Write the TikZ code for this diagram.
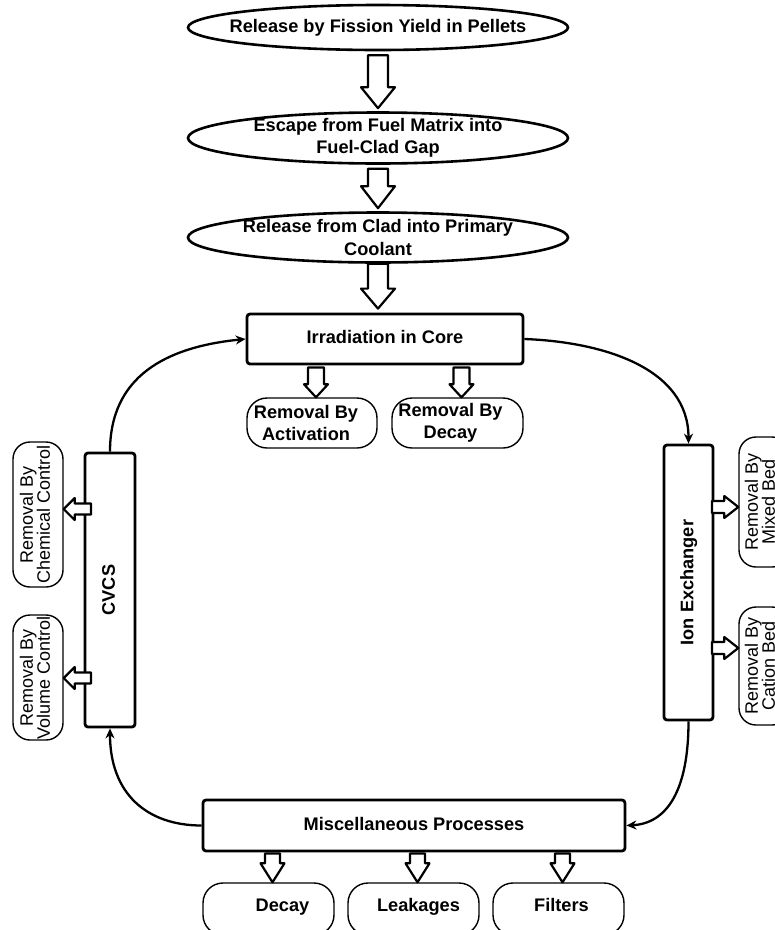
\documentclass[tikz,border=0pt]{standalone}
\usepackage{fontspec}
\setmainfont{Liberation Sans}
\usetikzlibrary{shapes.geometric,arrows.meta,calc}

% hollow block arrows: #1 start, #2 end (tip), #3 shaft half width, #4 head half width, #5 head length
\newcommand\blkdown[5]{\draw[blk] let \p1=(#1), \p2=(#2) in
 (\x2-#3pt,\y1) -- (\x2+#3pt,\y1) -- (\x2+#3pt,\y2+#5pt) -- (\x2+#4pt,\y2+#5pt) -- (\x2,\y2)
 -- (\x2-#4pt,\y2+#5pt) -- (\x2-#3pt,\y2+#5pt) -- cycle;}
\newcommand\blkright[5]{\draw[blk] let \p1=(#1), \p2=(#2) in
 (\x1,\y1-#3pt) -- (\x1,\y1+#3pt) -- (\x2-#5pt,\y1+#3pt) -- (\x2-#5pt,\y1+#4pt) -- (\x2,\y1)
 -- (\x2-#5pt,\y1-#4pt) -- (\x2-#5pt,\y1-#3pt) -- cycle;}
\newcommand\blkleft[5]{\draw[blk] let \p1=(#1), \p2=(#2) in
 (\x1,\y1-#3pt) -- (\x1,\y1+#3pt) -- (\x2+#5pt,\y1+#3pt) -- (\x2+#5pt,\y1+#4pt) -- (\x2,\y1)
 -- (\x2+#5pt,\y1-#4pt) -- (\x2+#5pt,\y1-#3pt) -- cycle;}

\begin{document}
\begin{tikzpicture}[x=1pt,y=-1pt,
  t/.style={font=\bfseries\fontsize{18.2}{22.5}\selectfont, align=center, inner sep=0pt},
  one/.style={text height=13.5pt, text depth=4pt},
  lt/.style={font=\fontsize{18}{17}\selectfont, align=center, inner sep=0pt},
  ell/.style={ellipse, draw, line width=2.6pt, inner sep=0pt, minimum width=380pt},
  mainbox/.style={draw, line width=2.8pt, rounded corners=3pt, inner sep=0pt, t},
  subbox/.style={draw, line width=1.4pt, rounded corners=20pt, inner sep=0pt},
  sidebox/.style={draw, line width=1.4pt, rounded corners=17pt, inner sep=0pt, minimum width=50pt},
  blk/.style={draw, line width=2.2pt, fill=white, line join=round},
  flow/.style={line width=2.3pt, -{Stealth[length=10pt,width=9pt]}}]
\clip (0,0) rectangle (775,930);
\fill[white] (0,0) rectangle (775,930);

% top ellipses
\node[ell, minimum height=45pt, label={[t]center:Release by Fission Yield in Pellets}] (e1) at (378,27.5) {};
\node[ell, minimum height=51pt, label={[t]center:Escape from Fuel Matrix into\\Fuel-Clad Gap}] (e2) at (378,138) {};
\node[ell, minimum height=50pt, label={[t]center:Release from Clad into Primary\\Coolant}] (e3) at (378,237.5) {};

% main boxes
\node[mainbox, one, minimum width=276pt, minimum height=50pt] (irr) at (385,339) {Irradiation in Core};
\node[mainbox, minimum width=50pt, minimum height=274pt, label={[t,one,rotate=90]center:CVCS}] (cvcs) at (110,590) {};
\node[mainbox, minimum width=49pt, minimum height=275pt, label={[t,one,rotate=90]center:Ion Exchanger}] (ion) at (688.5,582.5) {};
\node[mainbox, one, minimum width=422pt, minimum height=51pt] (misc) at (414,825.5) {Miscellaneous Processes};

% removal boxes under core
\node[subbox, minimum width=130pt, minimum height=50pt, label={[t,xshift=-6pt]center:Removal By\\Activation}] (act) at (312,423) {};
\node[subbox, minimum width=131pt, minimum height=50pt, label={[t,xshift=-7pt]center:Removal By\\Decay}] (dcy) at (457.5,423) {};

% side boxes
\node[sidebox, minimum height=145pt, label={[lt,rotate=90,yshift=3pt]center:Removal By\\Chemical Control}] (chem) at (38,514.5) {};
\node[sidebox, minimum height=125pt, label={[lt,rotate=90,yshift=3pt]center:Removal By\\Volume Control}] (vol) at (38,677.5) {};
\node[sidebox, minimum height=130pt, label={[lt,rotate=90,yshift=4pt]center:Removal By\\Mixed Bed}] (mix) at (764,502) {};
\node[sidebox, minimum height=118pt, label={[lt,rotate=90,yshift=4pt]center:Removal By\\Cation Bed}] (cat) at (764,666) {};

% bottom boxes
\node[subbox, minimum width=131pt, minimum height=52pt, label={[t,one,xshift=14pt,yshift=2pt]center:Decay}] (bdec) at (268.5,909) {};
\node[subbox, minimum width=131pt, minimum height=52pt, label={[t,one,xshift=5pt,yshift=2pt]center:Leakages}] (leak) at (413.5,909) {};
\node[subbox, minimum width=131pt, minimum height=52pt, label={[t,one,xshift=3pt,yshift=2pt]center:Filters}] (filt) at (558.5,909) {};

% hollow arrows, vertical chain
\blkdown{[yshift=-4pt]e1.south}{[yshift=3pt]e2.north}{10}{17}{21}
\blkdown{[yshift=-4pt]e2.south}{[yshift=3pt]e3.north}{10}{17}{22}
\blkdown{e3.south}{[xshift=-7pt,yshift=4pt]irr.north}{10}{17}{20}

% hollow arrows from core
\blkdown{[yshift=-2pt]irr.south}{[xshift=4pt]act.north}{8}{12}{13}
\blkdown{[yshift=-2pt]irr.south}{[xshift=4pt]dcy.north}{8}{12}{13}

% hollow arrows from misc
\blkdown{[yshift=-1pt]misc.south}{[xshift=4pt]bdec.north}{7.5}{12}{19}
\blkdown{[yshift=-1pt]misc.south}{[xshift=4pt]leak.north}{7.5}{12}{19}
\blkdown{[yshift=-1pt]misc.south}{[xshift=4pt]filt.north}{7.5}{12}{19}

% side hollow arrows
\coordinate (ca1) at (91,509);
\coordinate (ca2) at (91,678);
\coordinate (ia1) at (712,507);
\coordinate (ia2) at (712,648);
\blkleft{ca1}{chem.east}{5.5}{11}{11}
\blkleft{ca2}{vol.east}{5.5}{11}{11}
\blkright{ia1}{mix.west}{6}{11}{14}
\blkright{ia2}{cat.west}{6}{11}{14}

% loop connectors
\draw[flow] (cvcs.north) .. controls ($(cvcs.north)+(0,-75)$) and ($(irr.west)+(-80,8)$) .. (irr.west);
\draw[flow] (irr.east) .. controls ($(irr.east)+(80,3)$) and ($(ion.north)+(0,-75)$) .. (ion.north);
\draw[flow] (ion.south) .. controls ($(ion.south)+(0,70)$) and ($(misc.east)+(40,-2)$) .. (misc.east);
\draw[flow] (misc.west) .. controls ($(misc.west)+(-55,0)$) and ($(cvcs.south)+(0,65)$) .. (cvcs.south);
\end{tikzpicture}
\end{document}
